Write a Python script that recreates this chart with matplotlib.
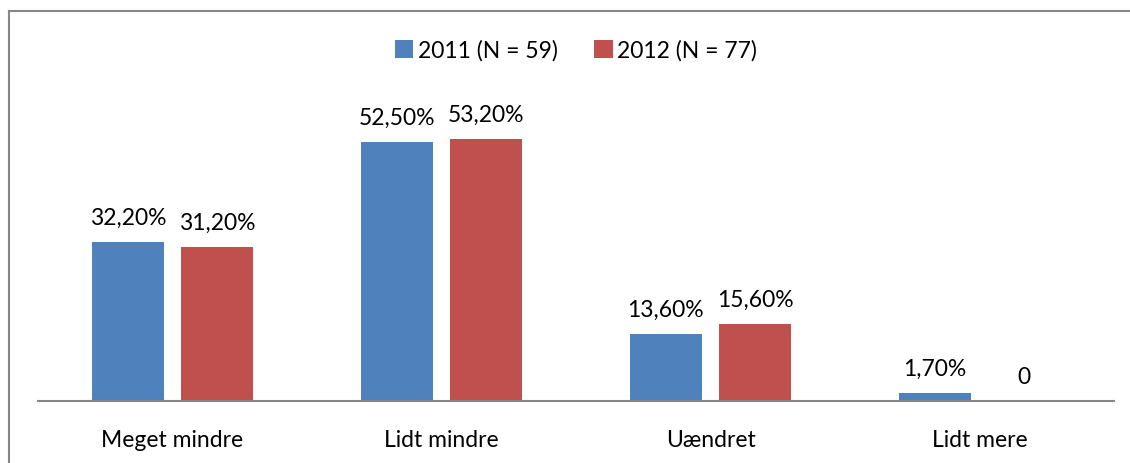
import matplotlib
matplotlib.use("Agg")
import matplotlib.pyplot as plt
import numpy as np
from matplotlib.lines import Line2D

categories = ["Meget mindre", "Lidt mindre", "Uændret", "Lidt mere"]
series_names = ["2011 (N = 59)", "2012 (N = 77)"]
values_2011 = [32.2, 52.5, 13.6, 1.7]
values_2012 = [31.2, 53.2, 15.6, 0.0]
labels_2011 = ["32,20%", "52,50%", "13,60%", "1,70%"]
labels_2012 = ["31,20%", "53,20%", "15,60%", "0"]

blue = "#4F81BD"
red = "#C0504D"
plt.rcParams['font.family'] = ['Lato', 'DejaVu Sans']
fs = 16.5

fig = plt.figure(figsize=(11.3, 4.64), dpi=100)
ax = fig.add_axes([38 / 1130, 62 / 464, 1076 / 1130, 296 / 464])

x = np.arange(len(categories))
w = 0.268
off = 0.166
b1 = ax.bar(x - off, values_2011, w, color=blue, label=series_names[0])
b2 = ax.bar(x + off, values_2012, w, color=red, label=series_names[1])

for rect, txt in zip(b1, labels_2011):
    ax.text(rect.get_x() + rect.get_width() / 2, rect.get_height() + 2.8, txt,
            ha="center", va="bottom", fontsize=fs)
for rect, txt in zip(b2, labels_2012):
    ax.text(rect.get_x() + rect.get_width() / 2, rect.get_height() + 2.8, txt,
            ha="center", va="bottom", fontsize=fs)

ax.set_xlim(-0.5, len(categories) - 0.5)
ax.set_ylim(0, 60)
ax.set_xticks(x)
ax.set_xticklabels(categories, fontsize=fs)
ax.tick_params(axis="x", length=0, pad=20)
ax.set_yticks([])
for side in ["top", "right", "left"]:
    ax.spines[side].set_visible(False)
ax.spines["bottom"].set_color("#868686")
ax.spines["bottom"].set_linewidth(1.5)

ax.legend(loc="center", bbox_to_anchor=(0.5, 1.186), ncol=2, frameon=False,
          fontsize=fs, handlelength=0.8, handleheight=0.8, handletextpad=0.2,
          columnspacing=1.6)

# outer chart border (left and top visible)
fig.add_artist(Line2D([8.5 / 1130, 8.5 / 1130], [0, 1 - 11.5 / 464],
                      transform=fig.transFigure, color="#868686", lw=1.5))
fig.add_artist(Line2D([8.5 / 1130, 1], [1 - 11.5 / 464, 1 - 11.5 / 464],
                      transform=fig.transFigure, color="#868686", lw=1.5))

fig.savefig("out.png", dpi=100)
